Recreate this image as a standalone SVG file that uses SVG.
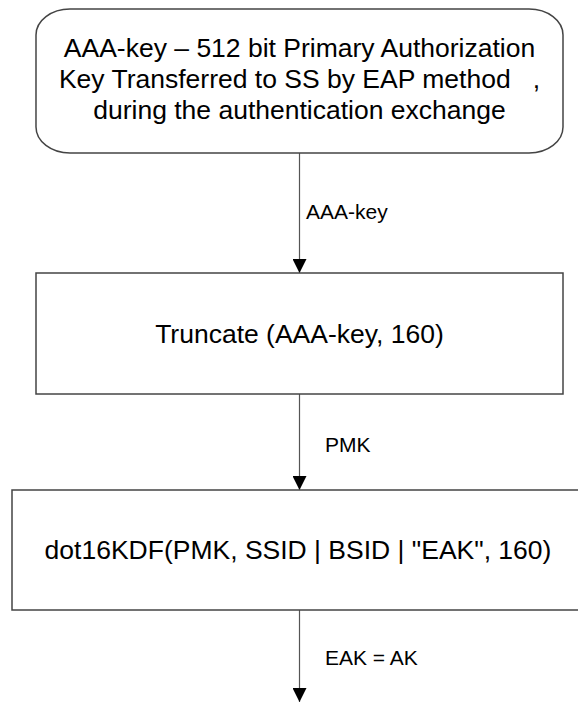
<svg xmlns="http://www.w3.org/2000/svg" width="578" height="702" viewBox="0 0 578 702">
<defs>
<style>
.box{fill:#fff;stroke:#444;stroke-width:1.5}
.t{font-family:"Liberation Sans",Arial,sans-serif;font-size:26.5px;fill:#000;text-anchor:middle}
.l{font-family:"Liberation Sans",Arial,sans-serif;font-size:21px;fill:#000}
.c{stroke:#555;stroke-width:1.2;fill:none}
</style>
<marker id="ah" viewBox="0 0 14 14" refX="14" refY="7" markerWidth="14" markerHeight="14" markerUnits="userSpaceOnUse" orient="auto">
<path d="M0,0 L14,7 L0,14 Z" fill="#000"/>
</marker>
</defs>
<rect width="578" height="702" fill="#fff"/>
<g id="connectors">
<line class="c" x1="299.5" y1="153" x2="299.5" y2="273" marker-end="url(#ah)"/>
<line class="c" x1="299.5" y1="394" x2="299.5" y2="490" marker-end="url(#ah)"/>
<line class="c" x1="299.5" y1="610" x2="299.5" y2="702" marker-end="url(#ah)"/>
<text class="l" x="306" y="219">AAA-key</text>
<text class="l" x="325" y="452">PMK</text>
<text class="l" x="325" y="665">EAK = AK</text>
</g>
<g id="node-aaa">
<rect class="box" x="36" y="9" width="527" height="144" rx="34" ry="26"/>
<text class="t" x="299.5" y="57">AAA-key – 512 bit Primary Authorization</text>
<text class="t" x="299.5" y="88" xml:space="preserve">Key Transferred to SS by EAP method   ,</text>
<text class="t" x="299.5" y="119">during the authentication exchange</text>
</g>
<g id="node-truncate">
<rect class="box" x="36" y="273" width="527" height="121"/>
<text class="t" x="299.5" y="343">Truncate (AAA-key, 160)</text>
</g>
<g id="node-kdf">
<rect class="box" x="12" y="490" width="580" height="120"/>
<text class="t" x="298" y="559">dot16KDF(PMK, SSID | BSID | "EAK", 160)</text>
</g>
</svg>
